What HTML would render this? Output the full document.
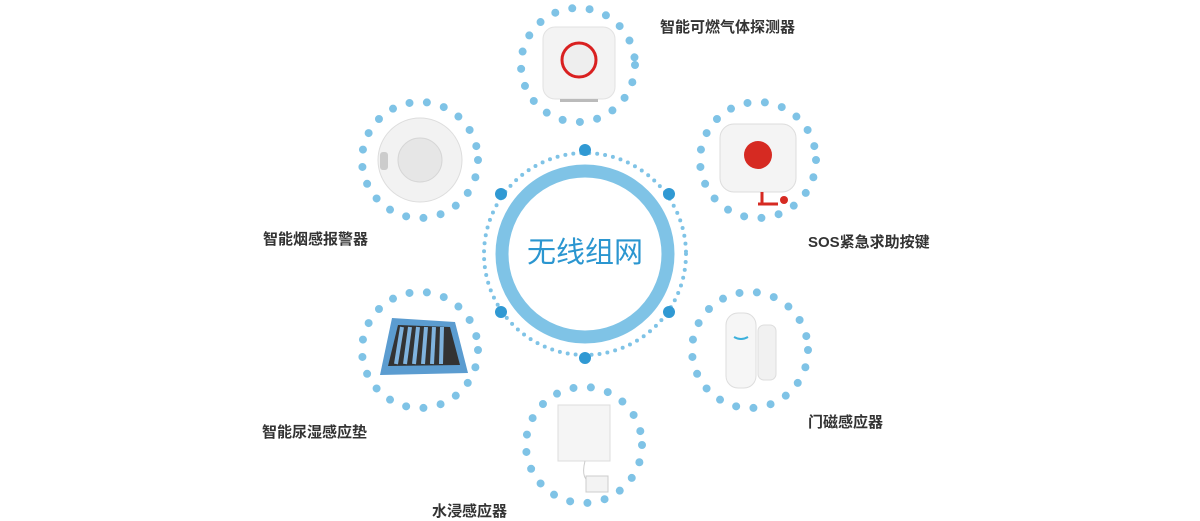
<!DOCTYPE html>
<html><head><meta charset="utf-8"><style>
html,body{margin:0;padding:0;background:#fff;}
body{width:1200px;height:520px;position:relative;overflow:hidden;font-family:"Liberation Sans","Noto Sans CJK SC",sans-serif;}
.l{position:absolute;font-size:15px;color:#333;font-weight:bold;white-space:nowrap;}
</style></head><body>
<svg width="1200" height="520" style="position:absolute;left:0;top:0">
<g fill="none" stroke="#7fc3e6" stroke-linecap="round">
  <circle cx="585" cy="254" r="83" stroke-width="13"/>
  <circle cx="585" cy="254" r="101" stroke-width="4" stroke-dasharray="0 8"/>
  <g stroke-width="8" stroke-dasharray="0 17.5">
    <circle cx="578" cy="65" r="57"/>
    <circle cx="420" cy="160" r="58"/>
    <circle cx="758" cy="160" r="58"/>
    <circle cx="420" cy="350" r="58"/>
    <circle cx="750" cy="350" r="58"/>
    <circle cx="584" cy="445" r="58"/>
  </g>
</g>
<g fill="#3099d3">
  <circle cx="585" cy="150" r="6"/><circle cx="585" cy="358" r="6"/>
  <circle cx="501" cy="194" r="6"/><circle cx="669" cy="194" r="6"/>
  <circle cx="501" cy="312" r="6"/><circle cx="669" cy="312" r="6"/>
</g>
<!-- gas detector -->
<rect x="543" y="27" width="72" height="72" rx="12" fill="#f3f3f3" stroke="#e2e2e2"/>
<circle cx="579" cy="60" r="17" fill="#eee" stroke="#d92020" stroke-width="3"/>
<rect x="560" y="99" width="38" height="3" fill="#bbb"/>
<!-- smoke -->
<circle cx="420" cy="160" r="42" fill="#f2f2f2" stroke="#ddd"/>
<circle cx="420" cy="160" r="22" fill="#e6e6e6" stroke="#d6d6d6"/>
<rect x="380" y="152" width="8" height="18" rx="3" fill="#ccc"/>
<!-- sos -->
<rect x="720" y="124" width="76" height="68" rx="14" fill="#f4f4f4" stroke="#ddd"/>
<circle cx="758" cy="155" r="14" fill="#d62a22"/>
<path d="M762 192 v12 M758 204 h20" stroke="#d62a22" stroke-width="3" fill="none"/>
<circle cx="784" cy="200" r="4" fill="#d62a22"/>
<!-- mat -->
<polygon points="392,318 455,322 468,373 380,375" fill="#5b9cd0"/>
<polygon points="398,325 450,327 460,365 388,366" fill="#333"/>
<g stroke="#7fb3de" stroke-width="4"><line x1="402" y1="327" x2="396" y2="364"/><line x1="410" y1="327" x2="405" y2="364"/><line x1="418" y1="327" x2="414" y2="364"/><line x1="426" y1="327" x2="423" y2="364"/><line x1="434" y1="327" x2="432" y2="364"/><line x1="442" y1="327" x2="441" y2="364"/></g>
<!-- door -->
<rect x="726" y="313" width="30" height="75" rx="12" fill="#f6f6f6" stroke="#ddd"/>
<rect x="758" y="325" width="18" height="55" rx="6" fill="#f1f1f1" stroke="#ddd"/>
<path d="M734 337 q7 4 14 0" stroke="#3bb0dc" stroke-width="2" fill="none"/>
<!-- water -->
<rect x="558" y="405" width="52" height="56" fill="#f5f5f5" stroke="#ddd"/>
<path d="M585 461 q-5 20 8 22" stroke="#ccc" fill="none"/>
<rect x="586" y="476" width="22" height="16" fill="#f3f3f3" stroke="#ccc"/>
</svg>
<div style="position:absolute;left:525px;top:234px;width:120px;text-align:center;font-size:29px;color:#2b96d0;line-height:38px;">无线组网</div>
<div class="l" style="left:660px;top:16px">智能可燃气体探测器</div>
<div class="l" style="left:263px;top:228px">智能烟感报警器</div>
<div class="l" style="left:808px;top:231px">SOS紧急求助按键</div>
<div class="l" style="left:262px;top:421px">智能尿湿感应垫</div>
<div class="l" style="left:808px;top:411px">门磁感应器</div>
<div class="l" style="left:432px;top:500px">水浸感应器</div>
</body></html>
